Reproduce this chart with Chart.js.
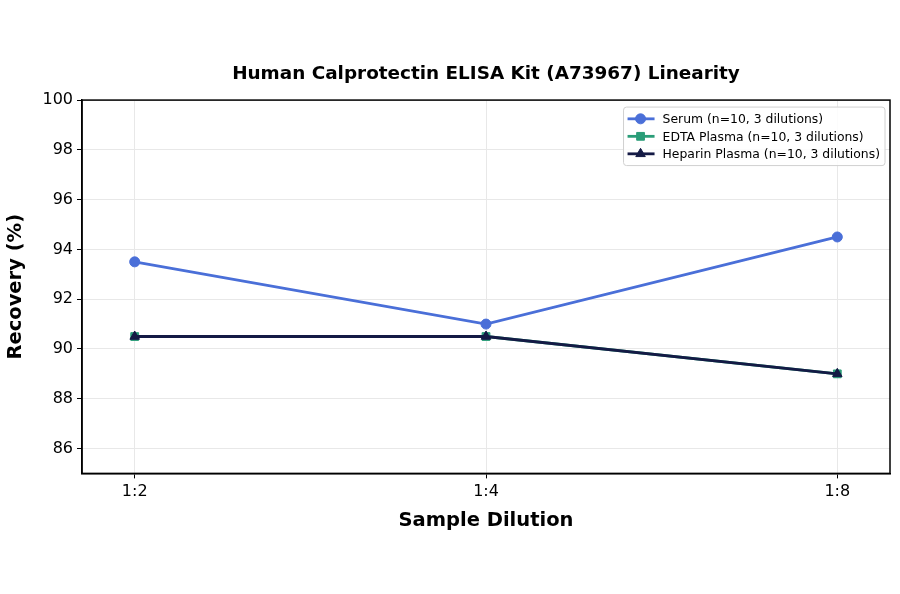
<!DOCTYPE html>
<html>
<head>
<meta charset="utf-8">
<script src="https://cdn.jsdelivr.net/npm/chart.js@4.4.1/dist/chart.umd.min.js"></script>
<style>
  html, body { margin: 0; padding: 0; background: #fff; }
  #wrap { width: 900px; height: 594px; }
</style>
</head>
<body>
<div id="wrap"><canvas id="linChart" width="900" height="594"></canvas></div>
<script>
// Data
const dilutions = ['1:2', '1:4', '1:8'];
const serum = [93.5, 91.0, 94.5];
const edtaPlasma = [90.5, 90.5, 89.0];
const heparinPlasma = [90.5, 90.5, 89.0];
const yTicks = [86, 88, 90, 92, 94, 96, 98, 100];

const FONT = 'DejaVu Sans';

const toPoints = (vals) => vals.map((v, i) => ({ x: i, y: v }));

// Full black frame around the plot area
const framePlugin = {
  id: 'frame',
  afterDraw(chart) {
    const { ctx, chartArea: a } = chart;
    ctx.save();
    ctx.strokeStyle = '#000';
    ctx.lineWidth = 1.5;
    ctx.strokeRect(a.left, a.top, a.right - a.left, a.bottom - a.top);
    ctx.restore();
  }
};

// Legend box in upper right corner, inside the plot
const insideLegend = {
  id: 'insideLegend',
  afterDraw(chart) {
    const { ctx, chartArea: a } = chart;
    const sets = chart.data.datasets;
    ctx.save();
    ctx.font = '12.4px "' + FONT + '"';
    let maxW = 0;
    sets.forEach(d => { maxW = Math.max(maxW, ctx.measureText(d.label).width); });
    const rowH = 17.5;
    const w = maxW + 44;
    const h = sets.length * rowH + 6;
    const x = a.right - w - 5;
    const y = a.top + 7;
    ctx.fillStyle = 'rgba(255,255,255,0.85)';
    ctx.strokeStyle = '#d0d0d0';
    ctx.lineWidth = 1;
    ctx.beginPath();
    ctx.roundRect(x, y, w, h, 3);
    ctx.fill();
    ctx.stroke();
    sets.forEach((d, i) => {
      const cy = y + 3 + rowH * i + rowH / 2;
      ctx.strokeStyle = d.borderColor;
      ctx.lineWidth = 2.8;
      ctx.beginPath();
      ctx.moveTo(x + 4, cy);
      ctx.lineTo(x + 31, cy);
      ctx.stroke();
      ctx.fillStyle = d.backgroundColor;
      ctx.lineWidth = 1;
      Chart.helpers.drawPoint(ctx, {
        pointStyle: d.pointStyle, radius: d.pointRadius, borderWidth: 1
      }, x + 17, cy);
      ctx.fillStyle = '#000';
      ctx.textBaseline = 'middle';
      ctx.fillText(d.label, x + 39, cy + 1);
    });
    ctx.restore();
  }
};

const ctx = document.getElementById('linChart').getContext('2d');
const linChart = new Chart(ctx, {
  type: 'line',
  data: {
    datasets: [
      {
        label: 'Serum (n=10, 3 dilutions)',
        data: toPoints(serum),
        borderColor: '#4a6fd8',
        backgroundColor: '#4a6fd8',
        pointStyle: 'circle',
        pointRadius: 5,
        pointBorderWidth: 1,
        borderWidth: 2.8,
        order: 3
      },
      {
        label: 'EDTA Plasma (n=10, 3 dilutions)',
        data: toPoints(edtaPlasma),
        borderColor: '#2a9d78',
        backgroundColor: '#2a9d78',
        pointStyle: 'rect',
        pointRadius: 5.5,
        pointBorderWidth: 1,
        borderWidth: 2.8,
        order: 2
      },
      {
        label: 'Heparin Plasma (n=10, 3 dilutions)',
        data: toPoints(heparinPlasma),
        borderColor: '#141a45',
        backgroundColor: '#141a45',
        pointStyle: 'triangle',
        pointRadius: 5.5,
        pointBorderWidth: 1,
        borderWidth: 2.8,
        order: 1
      }
    ]
  },
  options: {
    responsive: false,
    animation: false,
    layout: { padding: { top: 2, right: 10, left: 0, bottom: 61 } },
    plugins: {
      legend: { display: false },
      tooltip: { enabled: false },
      title: {
        display: true,
        fullSize: false,
        text: 'Human Calprotectin ELISA Kit (A73967) Linearity',
        color: '#000',
        font: { family: FONT, size: 18.4, weight: 'bold' },
        padding: { top: 61, bottom: 15 }
      }
    },
    scales: {
      x: {
        type: 'linear',
        min: -0.15,
        max: 2.15,
        afterBuildTicks: (axis) => { axis.ticks = dilutions.map((_, i) => ({ value: i })); },
        ticks: {
          callback: (v) => dilutions[v],
          color: '#000',
          font: { family: FONT, size: 16 },
          padding: 4,
          maxRotation: 0
        },
        grid: { color: '#e8e8e8', tickColor: '#000', tickLength: 5 },
        border: { color: '#000', width: 1.5 },
        title: {
          display: true,
          text: 'Sample Dilution',
          color: '#000',
          font: { family: FONT, size: 19.5, weight: 'bold' },
          padding: { top: 4, bottom: 0 }
        }
      },
      y: {
        min: 85,
        max: 100,
        afterBuildTicks: (axis) => { axis.ticks = yTicks.map(v => ({ value: v })); },
        afterFit: (axis) => { axis.width = 82; },
        ticks: {
          color: '#000',
          font: { family: FONT, size: 16 },
          padding: 4
        },
        grid: { color: '#e8e8e8', tickColor: '#000', tickLength: 5 },
        border: { color: '#000', width: 1.5 },
        title: {
          display: true,
          text: 'Recovery (%)',
          color: '#000',
          font: { family: FONT, size: 19.5, weight: 'bold' },
          padding: { bottom: 4 }
        }
      }
    }
  },
  plugins: [framePlugin, insideLegend]
});
</script>
</body>
</html>
